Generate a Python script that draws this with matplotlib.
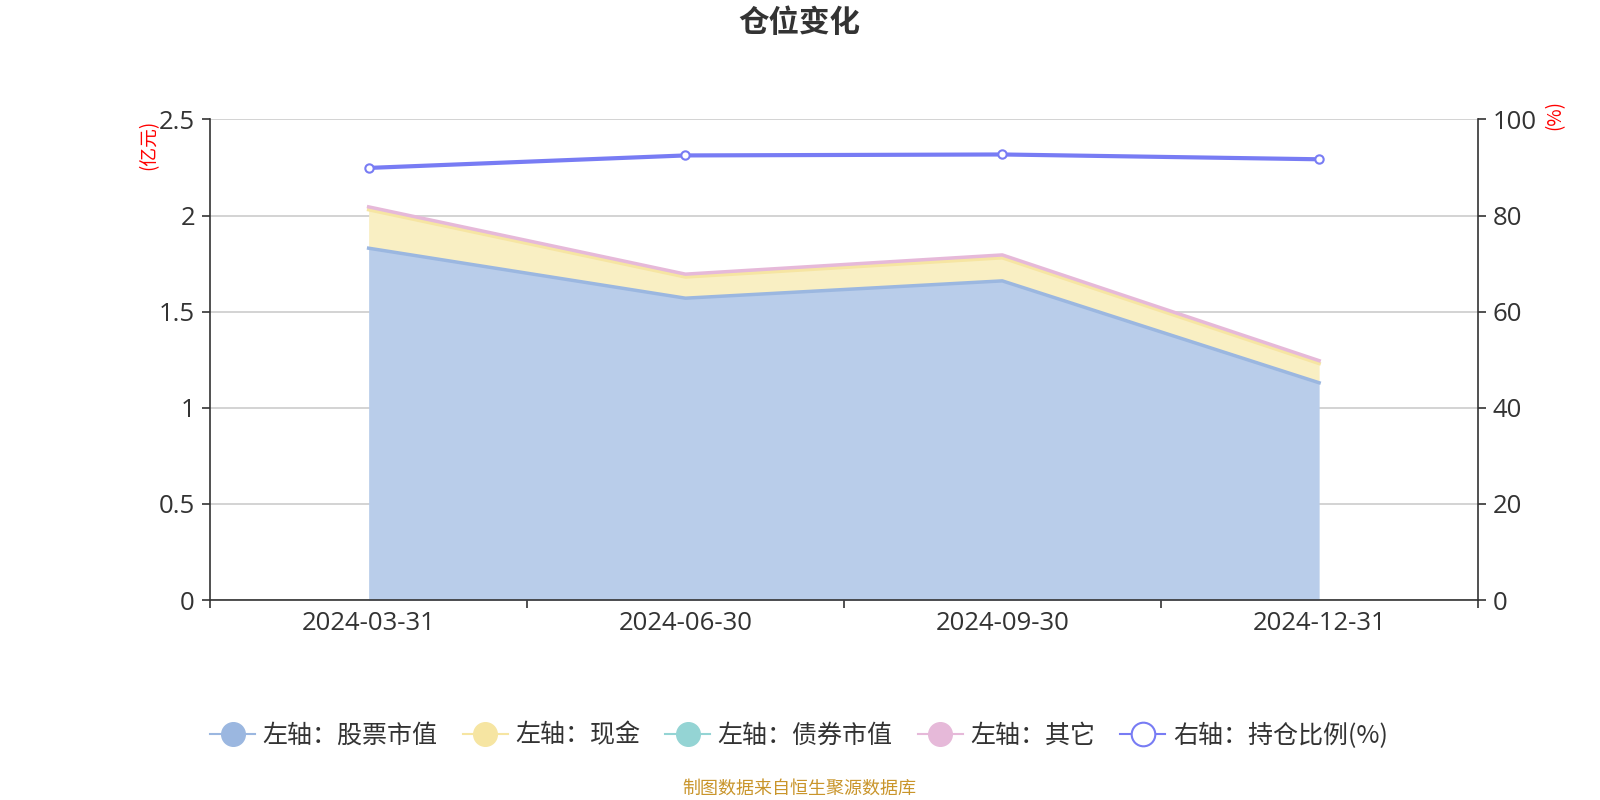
import matplotlib
matplotlib.use("Agg")
import matplotlib.pyplot as plt
from matplotlib.lines import Line2D
import numpy as np

plt.rcParams['font.family'] = ['Noto Sans CJK SC', 'DejaVu Sans']

dates = ["2024-03-31", "2024-06-30", "2024-09-30", "2024-12-31"]
stock = [1.83, 1.57, 1.66, 1.13]
cash = [0.20, 0.11, 0.12, 0.10]
bond = [0.0, 0.0, 0.0, 0.0]
other = [0.015, 0.015, 0.015, 0.015]
ratio = [89.9, 92.5, 92.7, 91.7]

left_ticks = [0, 0.5, 1, 1.5, 2, 2.5]
left_tick_labels = ["0", "0.5", "1", "1.5", "2", "2.5"]
right_ticks = [0, 20, 40, 60, 80, 100]

c_stock, f_stock = "#9bb7e0", "#b9cdea"
c_cash, f_cash = "#f6e5a2", "#f9efc3"
c_bond, f_bond = "#94d4d4", "#bfe5e5"
c_other, f_other = "#e6b9d9", "#f0d3e7"
c_ratio = "#787cf4"
txt = "#333333"
num_font = ['Open Sans', 'DejaVu Sans']

fig = plt.figure(figsize=(16, 8), dpi=100)
W, H = 1568, 784
ax = fig.add_axes([206 / W, 1 - 588 / H, (1448 - 206) / W, (588 - 117) / H])
ax2 = ax.twinx()

x = np.arange(len(dates))
s1 = np.array(stock)
s2 = s1 + np.array(cash)
s3 = s2 + np.array(bond)
s4 = s3 + np.array(other)

ax.fill_between(x, 0, s1, color=f_stock, lw=0, zorder=2)
ax.fill_between(x, s1, s2, color=f_cash, lw=0, zorder=2)
ax.fill_between(x, s2, s3, color=f_bond, lw=0, zorder=2)
ax.fill_between(x, s3, s4, color=f_other, lw=0, zorder=2)
ax.plot(x, s1, color=c_stock, lw=2.5, zorder=3)
ax.plot(x, s2, color=c_cash, lw=2.5, zorder=3)
ax.plot(x, s4, color=c_other, lw=2.5, zorder=3)

ax.set_xlim(-0.5, len(dates) - 0.5)
ax.set_ylim(0, 2.5)
ax.set_yticks(left_ticks)
ax.set_yticklabels(left_tick_labels, family=num_font)
ax.set_xticks(x)
ax.set_xticklabels(dates, family=num_font)
ax.set_xticks(np.arange(-0.5, len(dates), 1.0), minor=True)
ax.tick_params(axis='x', which='major', length=0, pad=8, labelsize=18.5, labelcolor=txt)
ax.tick_params(axis='x', which='minor', length=6, width=1.2, color=txt, direction='out')
ax.tick_params(axis='y', length=6, width=1.2, color=txt, labelsize=18.5, labelcolor=txt, pad=5)
ax.grid(axis='y', color="#cccccc", lw=1.2, zorder=1)
ax.set_axisbelow(True)
for sp in ['top', 'right']:
    ax.spines[sp].set_visible(False)
for sp in ['left', 'bottom']:
    ax.spines[sp].set_color(txt)
    ax.spines[sp].set_linewidth(1.2)

ax2.plot(x, ratio, color=c_ratio, lw=3, marker='o', markersize=6,
         markerfacecolor='white', markeredgecolor=c_ratio, markeredgewidth=1.5, zorder=5)
ax2.set_ylim(0, 100)
ax2.set_yticks(right_ticks)
ax2.set_yticklabels([str(t) for t in right_ticks], family=num_font)
ax2.tick_params(axis='y', length=6, width=1.2, color=txt, labelsize=18.5, labelcolor=txt, pad=5)
for sp in ['top', 'left', 'bottom']:
    ax2.spines[sp].set_visible(False)
ax2.spines['right'].set_color(txt)
ax2.spines['right'].set_linewidth(1.2)

fig.text(146 / W, 1 - 142 / H, "(亿元)", rotation=90, color="red", fontsize=13.5,
         ha='center', va='center')
fig.text(1524 / W, 1 - 113 / H, "(%)", rotation=90, color="red", fontsize=13.5,
         ha='center', va='center')

fig.text(783 / W, 1 - 23 / H, "仓位变化", fontsize=22, fontweight='bold', color=txt,
         ha='center', va='center')
fig.text(783 / W, 1 - 773 / H, "制图数据来自恒生聚源数据库", fontsize=13, color="#c9952b",
         ha='center', va='center')

handles = [
    Line2D([], [], color=c_stock, lw=1.5, marker='o', markersize=17, markerfacecolor=c_stock, markeredgecolor=c_stock),
    Line2D([], [], color=c_cash, lw=1.5, marker='o', markersize=17, markerfacecolor=c_cash, markeredgecolor=c_cash),
    Line2D([], [], color=c_bond, lw=1.5, marker='o', markersize=17, markerfacecolor=c_bond, markeredgecolor=c_bond),
    Line2D([], [], color=c_other, lw=1.5, marker='o', markersize=17, markerfacecolor=c_other, markeredgecolor=c_other),
    Line2D([], [], color=c_ratio, lw=1.5, marker='o', markersize=17, markerfacecolor='white', markeredgecolor=c_ratio, markeredgewidth=1.5),
]
labels = ["左轴：股票市值", "左轴：现金", "左轴：债券市值", "左轴：其它", "右轴：持仓比例(%)"]
fig.legend(handles, labels, loc='center', bbox_to_anchor=(783 / W, 1 - 721 / H), ncol=5,
           frameon=False, fontsize=18, handlelength=1.8, handletextpad=0.3, columnspacing=1.0,
           labelcolor=txt)

fig.savefig("out.png", dpi=100)
